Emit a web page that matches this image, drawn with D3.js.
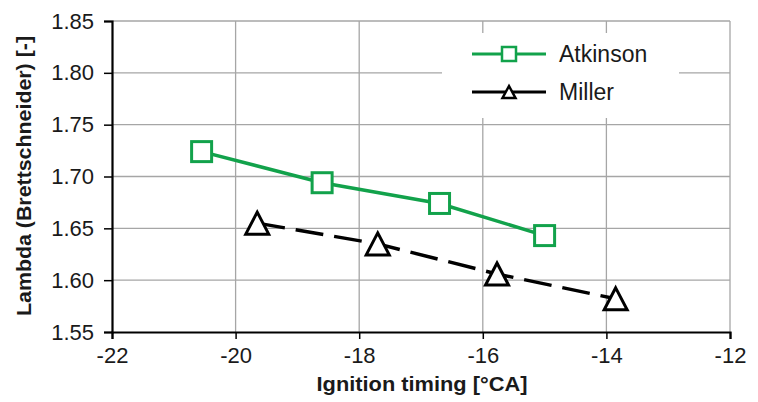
<!DOCTYPE html>
<html>
<head>
<meta charset="utf-8">
<script src="https://cdn.jsdelivr.net/npm/d3@7"></script>
<style>
  body { margin: 0; background: #fff; }
  text { font-family: "Liberation Sans", Arial, sans-serif; fill: #1a1a1a; }
  .title { font-weight: bold; }
</style>
</head>
<body>
<div id="graphic"></div>
<script>
var width = 758, height = 402;

// data
var atkinsonX = [-20.55, -18.6, -16.7, -15.0];
var atkinsonY = [1.724, 1.694, 1.674, 1.643];
var millerX = [-19.65, -17.7, -15.77, -13.85];
var millerY = [1.655, 1.635, 1.606, 1.582];
var xTicks = [-22, -20, -18, -16, -14, -12];
var yTicks = [1.55, 1.60, 1.65, 1.70, 1.75, 1.80, 1.85];

var green = "#12a24b";

var svg = d3.select("#graphic")
  .append("svg")
  .attr("width", width)
  .attr("height", height);

var x = d3.scaleLinear().domain([-22, -12]).range([112, 730]);
var y = d3.scaleLinear().domain([1.55, 1.85]).range([332, 21]);

// triangle centred on its bounding box, like the spreadsheet marker
function triangle(w, h){
  var p = d3.path();
  p.moveTo(0, -h/2);
  p.lineTo(w/2, h/2);
  p.lineTo(-w/2, h/2);
  p.closePath();
  return p.toString();
}

// grid
svg.append("g").selectAll("line.h")
  .data(yTicks.slice(1))
  .enter().append("line")
  .attr("x1", x(-22)).attr("x2", x(-12))
  .attr("y1", function(d){ return y(d); }).attr("y2", function(d){ return y(d); })
  .attr("stroke", "#a6a6a6").attr("stroke-width", 1.3);

svg.append("g").selectAll("line.v")
  .data(xTicks.slice(1))
  .enter().append("line")
  .attr("x1", function(d){ return x(d); }).attr("x2", function(d){ return x(d); })
  .attr("y1", y(1.85)).attr("y2", y(1.55))
  .attr("stroke", "#a6a6a6").attr("stroke-width", 1.3);

// axes
var yAxis = svg.append("g")
  .attr("transform", "translate(" + x(-22) + ",0)")
  .call(d3.axisLeft(y).tickValues(yTicks).tickFormat(d3.format(".2f")).tickSize(8).tickPadding(10));
var xAxis = svg.append("g")
  .attr("transform", "translate(0," + y(1.55) + ")")
  .call(d3.axisBottom(x).tickValues(xTicks).tickFormat(function(d){ return d < 0 ? "-" + Math.abs(d) : d; }).tickSize(7).tickPadding(8));

[yAxis, xAxis].forEach(function(a){
  a.select(".domain").attr("stroke", "#000").attr("stroke-width", 2.2);
  a.selectAll(".tick line").attr("stroke", "#000").attr("stroke-width", 1.5);
  a.selectAll("text").style("font-size", "22px").attr("fill", "#1a1a1a")
    .style("font-family", "'Liberation Sans', Arial, sans-serif");
});

// titles
svg.append("text")
  .attr("class", "title")
  .attr("transform", "translate(31,176) rotate(-90)")
  .attr("text-anchor", "middle")
  .attr("textLength", 280)
  .attr("lengthAdjust", "spacingAndGlyphs")
  .style("font-size", "20px")
  .text("Lambda (Brettschneider) [-]");

svg.append("text")
  .attr("class", "title")
  .attr("x", 422).attr("y", 391)
  .attr("text-anchor", "middle")
  .attr("textLength", 211)
  .attr("lengthAdjust", "spacingAndGlyphs")
  .style("font-size", "21px")
  .text("Ignition timing [°CA]");

// series
var atk = atkinsonX.map(function(d, i){ return [d, atkinsonY[i]]; });
var mil = millerX.map(function(d, i){ return [d, millerY[i]]; });
var line = d3.line().x(function(d){ return x(d[0]); }).y(function(d){ return y(d[1]); });

svg.append("path").datum(mil)
  .attr("d", line).attr("fill", "none")
  .attr("stroke", "#000").attr("stroke-width", 3.5)
  .attr("stroke-dasharray", "28,11");

svg.append("path").datum(atk)
  .attr("d", line).attr("fill", "none")
  .attr("stroke", green).attr("stroke-width", 3.5);

svg.append("g").selectAll("path")
  .data(mil).enter().append("path")
  .attr("d", triangle(23, 22))
  .attr("transform", function(d){ return "translate(" + x(d[0]) + "," + y(d[1]) + ")"; })
  .attr("fill", "#fff").attr("stroke", "#000").attr("stroke-width", 3)
  .attr("stroke-linejoin", "miter");

svg.append("g").selectAll("rect")
  .data(atk).enter().append("rect")
  .attr("x", function(d){ return x(d[0]) - 10; })
  .attr("y", function(d){ return y(d[1]) - 10; })
  .attr("width", 20).attr("height", 20)
  .attr("fill", "#fff").attr("stroke", green).attr("stroke-width", 3);

// legend
var legend = svg.append("g").attr("class", "legend");
legend.append("rect")
  .attr("x", 442).attr("y", 33).attr("width", 237).attr("height", 85)
  .attr("fill", "#fff");

legend.append("line")
  .attr("x1", 472).attr("x2", 546).attr("y1", 54).attr("y2", 54)
  .attr("stroke", green).attr("stroke-width", 3);
legend.append("rect")
  .attr("x", 502).attr("y", 47).attr("width", 14).attr("height", 14)
  .attr("fill", "#fff").attr("stroke", green).attr("stroke-width", 2.5);
legend.append("text")
  .attr("x", 559).attr("y", 62)
  .style("font-size", "23px")
  .text("Atkinson");

legend.append("line")
  .attr("x1", 472).attr("x2", 546).attr("y1", 92).attr("y2", 92)
  .attr("stroke", "#000").attr("stroke-width", 3);
legend.append("path")
  .attr("d", triangle(13, 12))
  .attr("transform", "translate(509,92)")
  .attr("fill", "#fff").attr("stroke", "#000").attr("stroke-width", 2.5);
legend.append("text")
  .attr("x", 559).attr("y", 100)
  .style("font-size", "23px")
  .text("Miller");
</script>
</body>
</html>
